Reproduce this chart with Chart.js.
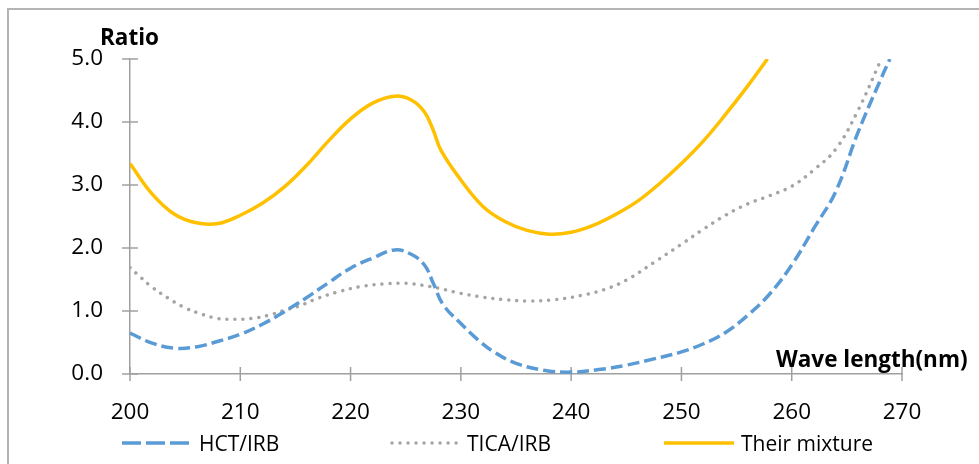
<!DOCTYPE html>
<html>
<head>
<meta charset="utf-8">
<script src="https://cdn.jsdelivr.net/npm/chart.js@4/dist/chart.umd.min.js"></script>
<style>
  html, body { margin:0; padding:0; width:979px; height:464px; overflow:hidden; background:#fff; }
  #wrap { position:relative; width:979px; height:464px; }
  #frame { position:absolute; left:7px; top:8px; width:1100px; height:600px; border:2px solid #b4b4b4; box-sizing:border-box; }
  #c { position:absolute; left:0; top:0; }
  .lg { position:absolute; top:430px; height:25px; display:flex; align-items:center; font-family:"Open Sans", sans-serif; font-size:21px; color:#000; white-space:nowrap; }
  .lg svg { margin-right:7px; }
</style>
</head>
<body>
<div id="wrap">
  <div id="frame"></div>
  <canvas id="c" width="979" height="464"></canvas>
</div>
<script>
// ---- data ----
const xTitle = "Wave length(nm)";
const yTitle = "Ratio";
const xTicks = [200, 210, 220, 230, 240, 250, 260, 270];
const yTicks = [0, 1, 2, 3, 4, 5];
const seriesNames = ["HCT/IRB", "TICA/IRB", "Their mixture"];

const hctX = [200, 202, 204, 206, 208, 210, 212, 214, 216, 218, 220, 222, 224, 225.5, 226.7, 227.5, 228.4, 230, 231.5, 233, 235, 237.5, 240, 242.5, 245, 247.5, 250, 252, 254, 256, 258, 260, 262, 264, 266, 268, 268.9];
const hctY = [0.65, 0.49, 0.41, 0.43, 0.52, 0.63, 0.79, 0.99, 1.21, 1.45, 1.68, 1.84, 1.97, 1.90, 1.73, 1.44, 1.10, 0.80, 0.55, 0.35, 0.17, 0.06, 0.03, 0.07, 0.14, 0.24, 0.35, 0.48, 0.66, 0.93, 1.27, 1.73, 2.31, 2.90, 3.83, 4.65, 5.0];

const ticaX = [200, 201, 202, 203.5, 205, 206.5, 208, 209.5, 211, 212.5, 214, 215.5, 217, 219, 221, 223, 225, 226.5, 228, 230, 232, 234, 236, 238.5, 241, 243, 245, 247.5, 250, 252, 254, 256, 258, 260, 262, 264, 266, 268];
const ticaY = [1.69, 1.53, 1.38, 1.20, 1.05, 0.95, 0.88, 0.87, 0.88, 0.93, 1.01, 1.09, 1.20, 1.31, 1.39, 1.43, 1.44, 1.41, 1.36, 1.28, 1.22, 1.18, 1.16, 1.18, 1.25, 1.34, 1.49, 1.77, 2.06, 2.30, 2.52, 2.70, 2.83, 2.98, 3.24, 3.57, 4.18, 4.95];

const mixX = [200, 202, 204, 206, 208, 210, 212, 214, 216, 218, 220, 222, 224, 225.5, 226.7, 227.5, 228.2, 230, 232, 234, 236, 238, 240, 242, 244, 246, 248, 250, 252, 254, 256, 257.8];
const mixY = [3.34, 2.86, 2.54, 2.40, 2.39, 2.52, 2.71, 2.97, 3.31, 3.70, 4.05, 4.30, 4.41, 4.35, 4.16, 3.87, 3.55, 3.08, 2.66, 2.42, 2.28, 2.22, 2.25, 2.36, 2.53, 2.74, 3.02, 3.34, 3.70, 4.12, 4.57, 5.0];

// ---- styles ----
const FONT = '"Open Sans", sans-serif';
const AXIS_COLOR = '#a0a0a0';
const seriesStyles = [
  { color:'#5B9BD5', width:3.5, dash:[12,5], cap:'butt', legendDash:'19,5' },
  { color:'#A5A5A5', width:3.5, dash:[0.01,8], cap:'round', legendDash:'0.01,8' },
  { color:'#FFC000', width:3.5, dash:[], cap:'butt', legendDash:'' }
];
const legendLeft = [122, 390, 664];

function pts(xs, ys) { return xs.map((x, i) => ({ x: x, y: ys[i] })); }

const crossTicks = {
  id: 'crossTicks',
  beforeDatasetsDraw(chart) {
    const { ctx, scales: { x, y } } = chart;
    ctx.save();
    ctx.strokeStyle = AXIS_COLOR;
    ctx.lineWidth = 1.5;
    x.ticks.forEach(t => {
      const px = x.getPixelForValue(t.value);
      ctx.beginPath(); ctx.moveTo(px, y.bottom - 7); ctx.lineTo(px, y.bottom + 7); ctx.stroke();
    });
    y.ticks.forEach(t => {
      const py = y.getPixelForValue(t.value);
      ctx.beginPath(); ctx.moveTo(x.left - 8, py); ctx.lineTo(x.left + 8, py); ctx.stroke();
    });
    ctx.restore();
  }
};

const axisTitles = {
  id: 'axisTitles',
  afterDraw(chart) {
    const { ctx } = chart;
    ctx.save();
    ctx.font = 'bold 22.5px ' + FONT;
    ctx.fillStyle = '#000';
    ctx.textBaseline = 'alphabetic';
    ctx.textAlign = 'left';
    ctx.fillText(yTitle, 100, 45);
    ctx.fillText(xTitle, 776, 367);
    ctx.restore();
  }
};

function build() {
  const datasets = [[hctX, hctY], [ticaX, ticaY], [mixX, mixY]].map((d, i) => ({
    label: seriesNames[i],
    data: pts(d[0], d[1]),
    borderColor: seriesStyles[i].color,
    backgroundColor: seriesStyles[i].color,
    borderWidth: seriesStyles[i].width,
    borderDash: seriesStyles[i].dash,
    borderCapStyle: seriesStyles[i].cap,
    pointRadius: 0,
    tension: 0.4,
    fill: false
  }));

  new Chart(document.getElementById('c'), {
    type: 'line',
    data: { datasets },
    options: {
      responsive: false,
      animation: false,
      layout: { padding: { left: 0, right: 77, top: 59, bottom: 0 } },
      plugins: { legend: { display: false }, tooltip: { enabled: false } },
      scales: {
        x: {
          type: 'linear', min: xTicks[0], max: xTicks[xTicks.length - 1],
          afterBuildTicks(s) { s.ticks = xTicks.map(v => ({ value: v })); },
          ticks: { padding: 17, color: '#000', font: { family: FONT, size: 22.5 }, maxRotation: 0 },
          grid: { display: false },
          border: { color: AXIS_COLOR, width: 1.5 },
          afterFit(s) { s.height = 90; }
        },
        y: {
          min: yTicks[0], max: yTicks[yTicks.length - 1],
          afterBuildTicks(s) { s.ticks = yTicks.map(v => ({ value: v })); },
          ticks: { padding: 19, color: '#000', font: { family: FONT, size: 22.5 }, callback: v => Number(v).toFixed(1) },
          grid: { display: false },
          border: { color: AXIS_COLOR, width: 1.5 },
          afterFit(s) { s.width = 130; }
        }
      }
    },
    plugins: [crossTicks, axisTitles]
  });

  const wrap = document.getElementById('wrap');
  seriesNames.forEach((name, i) => {
    const st = seriesStyles[i];
    const div = document.createElement('div');
    div.className = 'lg';
    div.style.left = legendLeft[i] + 'px';
    const svgNS = 'http://www.w3.org/2000/svg';
    const svg = document.createElementNS(svgNS, 'svg');
    svg.setAttribute('width', '70'); svg.setAttribute('height', '8');
    const ln = document.createElementNS(svgNS, 'line');
    ln.setAttribute('x1', st.cap === 'round' ? '2' : '0'); ln.setAttribute('x2', '70');
    ln.setAttribute('y1', '4'); ln.setAttribute('y2', '4');
    ln.setAttribute('stroke', st.color); ln.setAttribute('stroke-width', st.width);
    ln.setAttribute('stroke-linecap', st.cap);
    if (st.legendDash) ln.setAttribute('stroke-dasharray', st.legendDash);
    svg.appendChild(ln);
    const sp = document.createElement('span');
    sp.textContent = name;
    div.appendChild(svg); div.appendChild(sp);
    wrap.appendChild(div);
  });
}

if (document.fonts && document.fonts.load) {
  Promise.all([document.fonts.load('22px "Open Sans"'), document.fonts.load('bold 22px "Open Sans"')]).then(build, build);
} else { build(); }
</script>
</body>
</html>
